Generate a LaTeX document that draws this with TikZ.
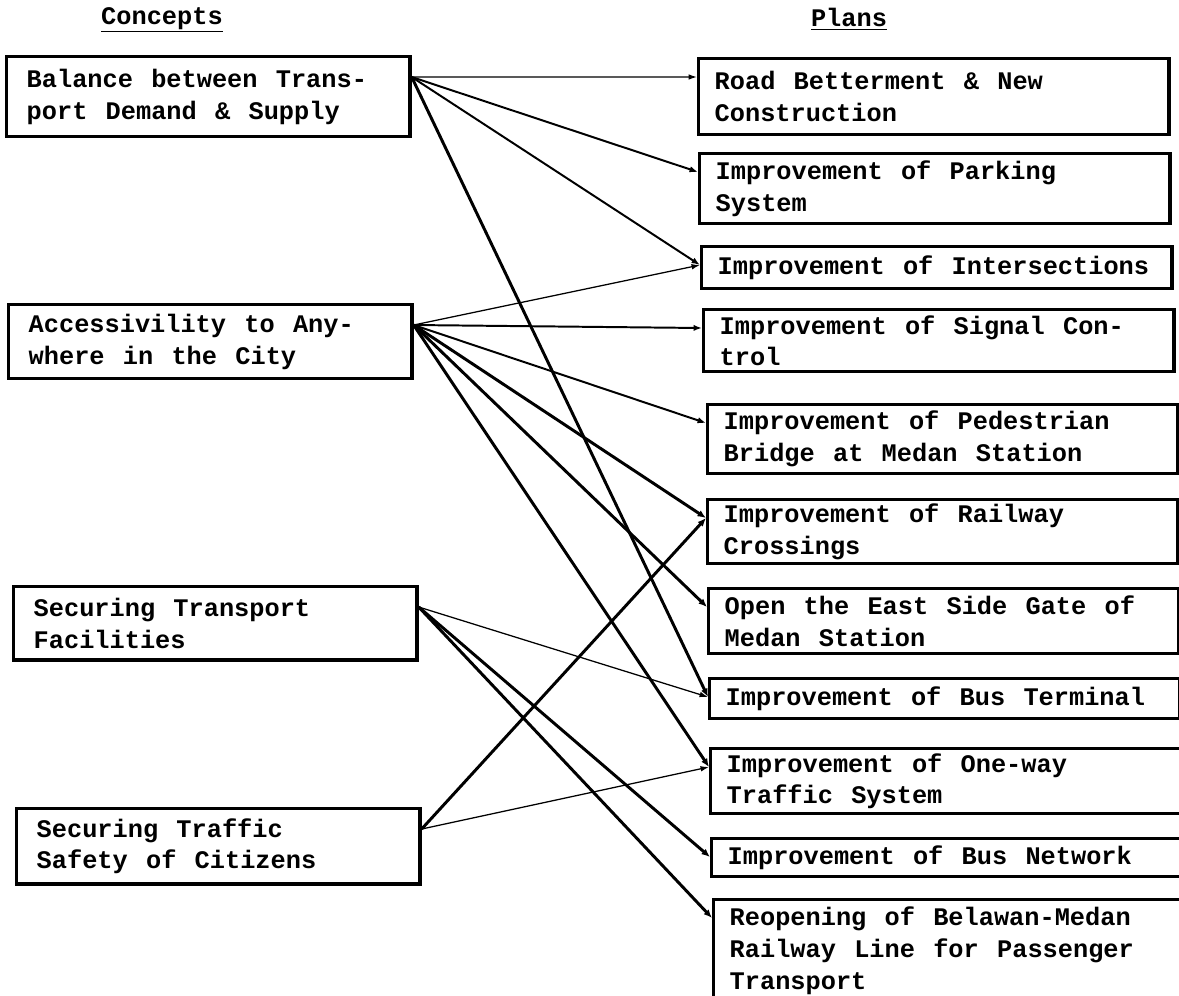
\documentclass[tikz,border=0pt]{standalone}
\usepackage{fontspec}
\setmainfont{Liberation Mono}
\usetikzlibrary{arrows.meta}

\newcommand{\boxfont}{\fontsize{18}{22.5}\selectfont\bfseries\spaceskip 13pt\relax}

\begin{document}
\begin{tikzpicture}[x=0.025cm, y=-0.025cm,
    font=\boxfont,
    concept/.style={draw, line width=2.4pt, anchor=north west, align=flush left,
        inner xsep=0.5cm, inner ysep=2pt, text width=9.08cm},
    plan/.style={draw, line width=2.4pt, anchor=north west, align=flush left,
        inner xsep=0.4cm, inner ysep=2pt, text width=10.95cm},
    thinlink/.style={line width=0.9pt, -{Latex[length=6pt,width=4pt]}},
    midlink/.style={line width=1.4pt, -{Latex[length=6pt,width=4.5pt]}},
    thicklink/.style={line width=2.1pt, -{Latex[length=6pt,width=5pt]}}]

    \useasboundingbox (0,0) rectangle (1179,995);

    % Headings
    \node (concepts) at (162,20) {\underline{Concepts}};
    \node (plans) at (849,19) {\underline{Plans}};

    % Left: concepts
    \node[concept, minimum height=2.0cm] (C1) at (5,55) {Balance between Trans-\\port Demand \& Supply};
    \node[concept, minimum height=1.85cm] (C2) at (7,303) {Accessivility to Any-\\where in the City};
    \node[concept, minimum height=1.83cm] (C3) at (12,585) {Securing Transport\\Facilities};
    \node[concept, minimum height=1.88cm] (C4) at (15,807) {Securing Traffic\\Safety of Citizens};

    % Right: plans
    \node[plan, minimum height=1.9cm] (P1) at (697,57) {Road Betterment \& New\\Construction};
    \node[plan, minimum height=1.75cm] (P2) at (698,152) {Improvement of Parking\\System};
    \node[plan, minimum height=1.05cm] (P3) at (700,245) {Improvement of Intersections};
    \node[plan, minimum height=1.55cm] (P4) at (702,308) {Improvement of Signal Con-\\trol};
    \node[plan, minimum height=1.72cm] (P5) at (706,403) {Improvement of Pedestrian\\Bridge at Medan Station};
    \node[plan, minimum height=1.6cm] (P6) at (706,498) {Improvement of Railway\\Crossings};
    \node[plan, minimum height=1.62cm] (P7) at (707,587) {Open the East Side Gate of\\Medan Station};
    \node[plan, minimum height=1.0cm] (P8) at (708,677) {Improvement of Bus Terminal};
    \node[plan, minimum height=1.62cm] (P9) at (709,747) {Improvement of One-way\\Traffic System};
    \node[plan, minimum height=0.95cm] (P10) at (710,837) {Improvement of Bus Network};
    \node[plan, minimum height=2.55cm] (P11) at (712,898) {Reopening of Belawan-Medan\\Railway Line for Passenger\\Transport};

    % Links (concept -> plan)
    \foreach \a/\b in {C1/P1, C2/P3, C3/P8, C4/P9}
        \draw[thinlink] ([yshift=-0.55cm]\a.north east) -- ([yshift=-0.5cm]\b.north west);
    \foreach \a/\b in {C1/P2, C1/P3, C2/P4, C2/P5}
        \draw[midlink] ([yshift=-0.55cm]\a.north east) -- ([yshift=-0.5cm]\b.north west);
    \foreach \a/\b in {C1/P8, C2/P6, C2/P7, C2/P9, C3/P10, C3/P11, C4/P6}
        \draw[thicklink] ([yshift=-0.55cm]\a.north east) -- ([yshift=-0.5cm]\b.north west);

\end{tikzpicture}
\end{document}
